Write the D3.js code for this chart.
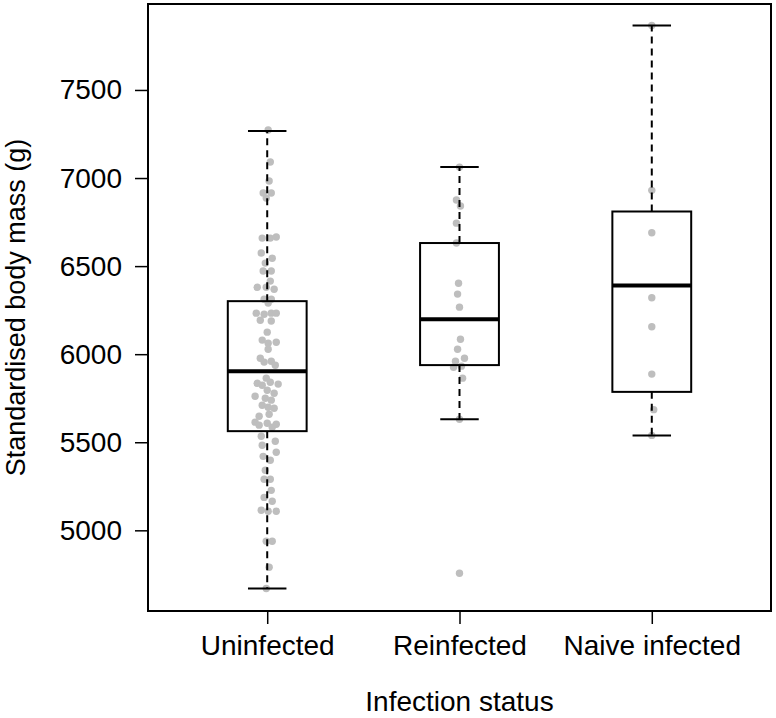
<!DOCTYPE html>
<html>
<head>
<meta charset="utf-8">
<script src="https://cdn.jsdelivr.net/npm/d3@7"></script>
<style>
  body { margin: 0; background: #fff; }
  text { font-family: "Liberation Sans", Arial, sans-serif; fill: #000; }
</style>
</head>
<body>
<svg width="776" height="718"></svg>
<script>
// groups on the x axis
const groups = ["Uninfected", "Reinfected", "Naive infected"]

// box statistics (g)
const whiskerLow = [4670, 5631, 5539]
const q1 = [5563, 5938, 5786]
const median = [5903, 6199, 6390]
const q3 = [6301, 6631, 6810]
const whiskerHigh = [7267, 7062, 7866]

// individual birds, value and horizontal jitter (in group units)
const uninfected = [7273, 7091, 6983, 6915, 6915, 6886, 6659, 6659, 6665, 6574, 6545, 6517, 6472, 6472, 6415, 6380, 6380, 6369, 6312, 6312, 6290, 6233, 6227, 6233, 6233, 6193, 6188, 6125, 6080, 6062, 6068, 6028, 5977, 5955, 5960, 5937, 5835, 5824, 5841, 5830, 5864, 5795, 5778, 5761, 5750, 5739, 5710, 5699, 5693, 5659, 5648, 5614, 5597, 5608, 5602, 5585, 5534, 5506, 5483, 5443, 5420, 5398, 5341, 5290, 5290, 5227, 5187, 5165, 5114, 5108, 5108, 4938, 4938, 4790, 4670]
const uninfectedJitter = [0.005, 0.016, 0.010, -0.021, 0.021, -0.005, -0.026, 0.016, 0.047, -0.031, 0.026, -0.010, -0.021, 0.021, 0.016, -0.005, -0.052, 0.036, -0.016, 0.021, 0.005, -0.057, -0.016, 0.021, 0.047, -0.036, 0.021, 0.000, -0.026, 0.005, 0.047, 0.005, -0.036, -0.016, 0.021, 0.042, -0.052, -0.026, 0.016, 0.057, -0.005, 0.000, 0.036, -0.063, -0.010, 0.021, -0.026, 0.005, 0.036, 0.010, -0.042, -0.063, -0.042, 0.000, 0.047, 0.026, -0.031, 0.042, -0.026, 0.047, -0.021, 0.016, -0.010, -0.016, 0.016, 0.021, -0.016, 0.026, -0.031, 0.005, 0.047, -0.005, 0.026, 0.010, -0.005]
const reinfected = [7062, 6875, 6841, 6744, 6631, 6403, 6341, 6267, 6085, 6028, 5977, 5960, 5926, 5932, 5864, 5631, 4756]
const reinfectedJitter = [0.000, -0.016, 0.005, -0.016, -0.016, -0.005, -0.010, 0.000, 0.005, -0.010, 0.026, -0.021, -0.031, 0.010, 0.016, 0.000, 0.000]
const naive = [7866, 6930, 6689, 6320, 6156, 5887, 5685, 5539]
const naiveJitter = [0.000, 0.000, 0.000, 0.000, 0.000, 0.000, 0.010, 0.000]

const yTicks = [5000, 5500, 6000, 6500, 7000, 7500]

const svg = d3.select("svg")
const frame = { left: 148, top: 4, right: 771, bottom: 611 }

const x = d3.scaleLinear().domain([0.38, 3.62]).range([frame.left, frame.right])
const y = d3.scaleLinear().domain([4542, 7988]).range([frame.bottom, frame.top])

const points = []
;[[uninfected, uninfectedJitter], [reinfected, reinfectedJitter], [naive, naiveJitter]]
  .forEach(([vals, jit], i) => vals.forEach((v, k) => points.push({ g: i + 1 + jit[k], v })))

// points
svg.append("g")
  .selectAll("circle")
  .data(points)
  .enter()
  .append("circle")
  .attr("cx", (d) => x(d.g))
  .attr("cy", (d) => y(d.v))
  .attr("r", 3.7)
  .attr("fill", "#bebebe")

// boxplots
const boxW = 0.41
const capW = 0.2
const boxes = svg.append("g")
  .selectAll("g")
  .data(groups.map((name, i) => ({ i: i + 1, lo: whiskerLow[i], q1: q1[i], med: median[i], q3: q3[i], hi: whiskerHigh[i] })))
  .enter()
  .append("g")

boxes.append("line")
  .attr("x1", (d) => x(d.i)).attr("x2", (d) => x(d.i))
  .attr("y1", (d) => y(d.q3)).attr("y2", (d) => y(d.hi))
  .attr("stroke", "#000").attr("stroke-width", 2).attr("stroke-dasharray", "7,5")
boxes.append("line")
  .attr("x1", (d) => x(d.i)).attr("x2", (d) => x(d.i))
  .attr("y1", (d) => y(d.q1)).attr("y2", (d) => y(d.lo))
  .attr("stroke", "#000").attr("stroke-width", 2).attr("stroke-dasharray", "7,5")
boxes.append("line")
  .attr("x1", (d) => x(d.i - capW / 2)).attr("x2", (d) => x(d.i + capW / 2))
  .attr("y1", (d) => y(d.hi)).attr("y2", (d) => y(d.hi))
  .attr("stroke", "#000").attr("stroke-width", 2)
boxes.append("line")
  .attr("x1", (d) => x(d.i - capW / 2)).attr("x2", (d) => x(d.i + capW / 2))
  .attr("y1", (d) => y(d.lo)).attr("y2", (d) => y(d.lo))
  .attr("stroke", "#000").attr("stroke-width", 2)
boxes.append("rect")
  .attr("x", (d) => x(d.i - boxW / 2))
  .attr("width", (d) => x(d.i + boxW / 2) - x(d.i - boxW / 2))
  .attr("y", (d) => y(d.q3))
  .attr("height", (d) => y(d.q1) - y(d.q3))
  .attr("fill", "none").attr("stroke", "#000").attr("stroke-width", 2)
boxes.append("line")
  .attr("x1", (d) => x(d.i - boxW / 2)).attr("x2", (d) => x(d.i + boxW / 2))
  .attr("y1", (d) => y(d.med)).attr("y2", (d) => y(d.med))
  .attr("stroke", "#000").attr("stroke-width", 4)

// frame
svg.append("rect")
  .attr("x", frame.left).attr("y", frame.top)
  .attr("width", frame.right - frame.left).attr("height", frame.bottom - frame.top)
  .attr("fill", "none").attr("stroke", "#000").attr("stroke-width", 2)

// y axis
const yAxis = svg.append("g")
  .attr("transform", "translate(" + frame.left + ",0)")
  .call(d3.axisLeft(y).tickValues(yTicks).tickSize(13).tickPadding(13).tickFormat(d3.format("d")))
yAxis.select(".domain").remove()
yAxis.selectAll("line").attr("stroke", "#000").attr("stroke-width", 1.5)
yAxis.selectAll("text").attr("font-size", 28).attr("font-family", null).attr("fill", "#000")

// x axis
const xAxis = svg.append("g")
  .attr("transform", "translate(0," + frame.bottom + ")")
  .call(d3.axisBottom(x).tickValues([1, 2, 3]).tickSize(13).tickFormat((d) => groups[d - 1]))
xAxis.select(".domain").remove()
xAxis.selectAll("line").attr("stroke", "#000").attr("stroke-width", 1.5)
xAxis.selectAll("text").attr("font-size", 28).attr("font-family", null).attr("fill", "#000")
  .attr("y", 44).attr("dy", null)

// axis titles
svg.append("text")
  .attr("x", (frame.left + frame.right) / 2)
  .attr("y", 711)
  .attr("text-anchor", "middle")
  .attr("font-size", 28)
  .text("Infection status")

svg.append("text")
  .attr("transform", "translate(25," + (frame.top + frame.bottom) / 2 + ") rotate(-90)")
  .attr("text-anchor", "middle")
  .attr("font-size", 27)
  .text("Standardised body mass (g)")
</script>
</body>
</html>
